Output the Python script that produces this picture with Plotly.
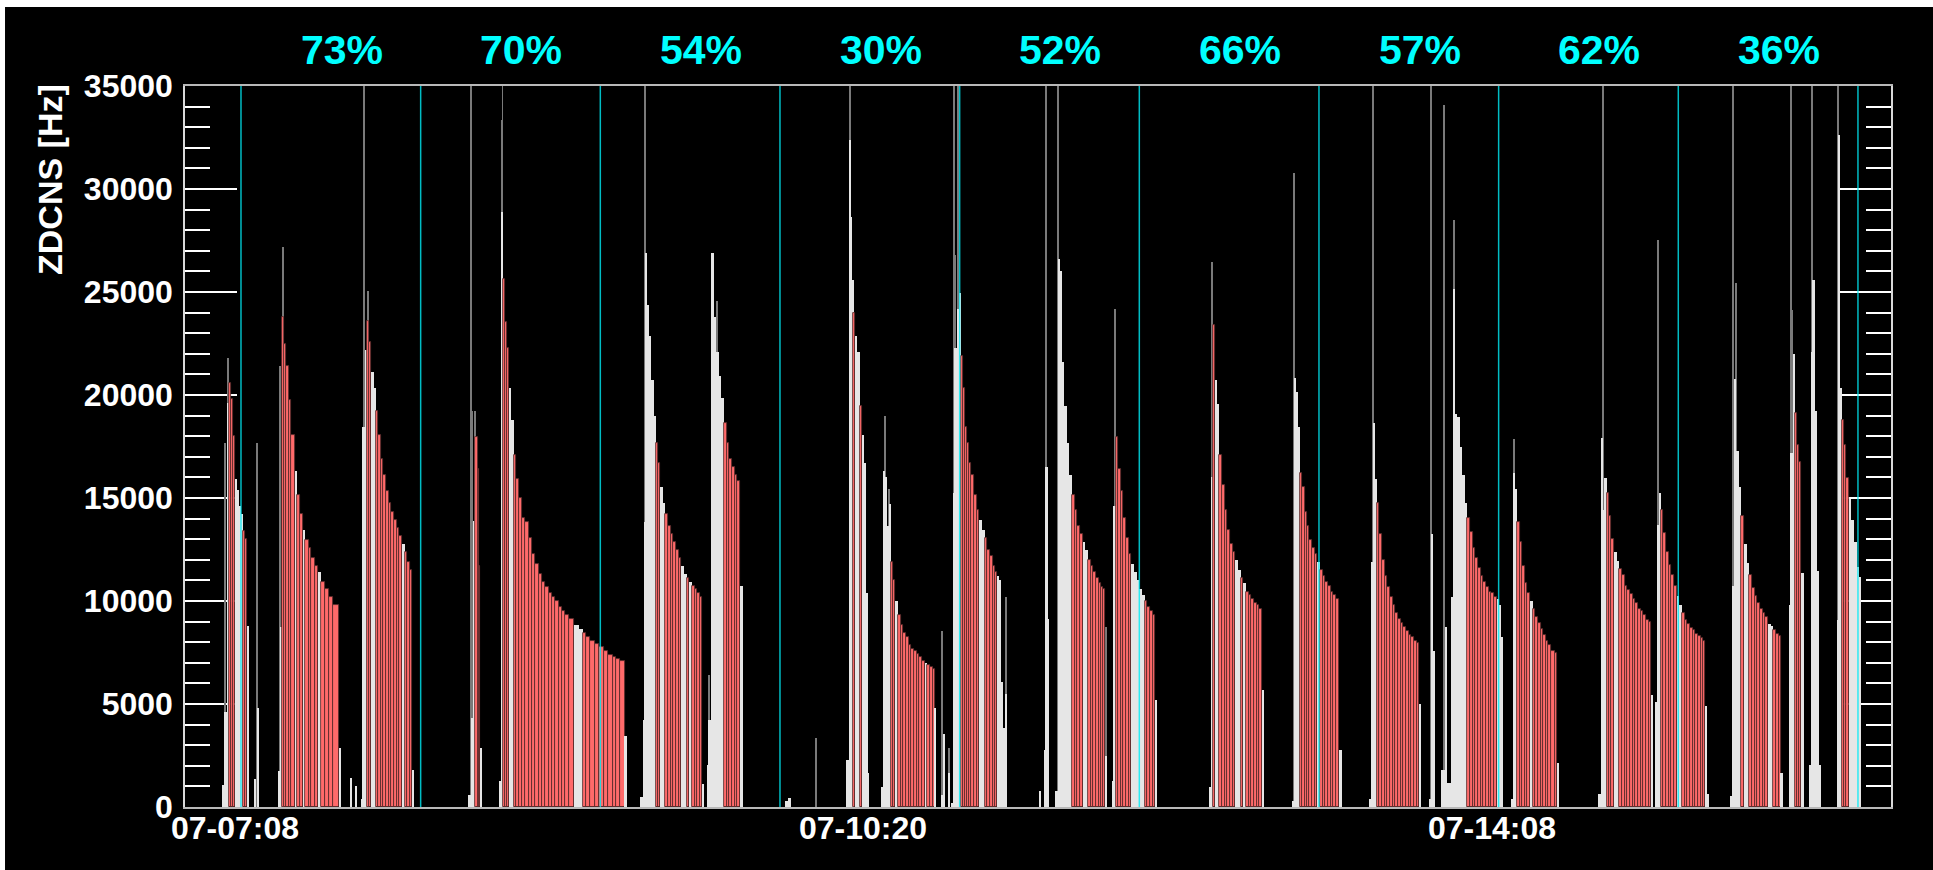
import plotly.graph_objects as go

# ZDC neutron-side count rate per 20 s sample, one block of lists per LHC fill.
# *_t    : bin edges in samples since 07:08 (1 sample = 20 s, 180 samples = 1 h)
# *_rate : rate in each bin [Hz] (0 = no data)
# *_kind : r = stable-beam bin, w = other bin
f01_t = [-19.5, -16.5, -14.5, -12.5, -10.5, -8, -6, -4, -2, 0, 2, 4.5, 6.5, 8, 13.5, 15.5, 16.5, 18]
f01_rate = [1050, 4600, 19600, 20600, 19800, 18000, 15900, 15400, 14600, 14200, 13400, 13000, 8800, 0, 1340, 0, 4800]
f01_kind = "www" + "rrr" + "wwww" + "rr" + "wwwww"

f02_t = [37.5, 39.5, 41, 43.5, 45.5, 48, 50.5, 54, 56, 59, 62.5, 64.5, 68, 70.5, 74, 77.5, 80, 84, 88, 92.5, 98, 100.5,
         109.5, 111.5, 114.5, 116.5]
f02_rate = [1730, 8740, 23800, 22460, 21400, 19780, 18050, 16320, 15170, 14200, 13440, 12960, 12580, 12100, 11710, 11420,
            10940, 10560, 10180, 9790, 2880, 0, 1400, 0, 1000]
f02_kind = "ww" + "rrrrr" + "w" + "rr" + "w" + "rrrr" + "w" + "rrrr" + "w" + "wwww"

f03_t = [120, 122, 124, 126, 128.5, 130.5, 133, 135, 137.5, 140, 142.5, 145.5, 148, 150.5, 153.5, 156, 158.5, 161.5, 164,
         166.5, 169.5, 171.5, 173]
f03_rate = [380, 18430, 22180, 23600, 22560, 21120, 20350, 19200, 18050, 16900, 16130, 15360, 14780, 14300, 13920, 13540,
            13150, 12770, 12380, 11900, 11520, 1820]
f03_kind = "www" + "rr" + "ww" + "rrrrrrrrrr" + "w" + "rrr" + "w"

f04_t = [227.5, 230, 232.5, 234.5, 237, 238.5, 239.5, 240.5]
f04_rate = [580, 4320, 13860, 17950, 16420, 11710, 2880]
f04_kind = "www" + "rrr" + "w"

f05_t = [258.5, 260.5, 262.5, 264.5, 266.5, 269, 271, 273.5, 275.5, 278.5, 281.5, 285, 288.5, 291.5, 295, 298.5, 301.5,
         305, 308.5, 311.5, 315, 318.5, 321.5, 325, 329, 333.5, 338.5, 342.5, 345.5, 350, 355, 359, 363.5, 367.5, 372.5,
         375.5, 380, 384.5, 386.5]
f05_rate = [1250, 28900, 25630, 23520, 22270, 20350, 18800, 17090, 15940, 14980, 14020, 13820, 13060, 12290, 11810, 11330,
            10940, 10660, 10370, 10180, 9980, 9700, 9500, 9310, 9120, 8830, 8640, 8450, 8260, 8060, 7910, 7780, 7580,
            7390, 7300, 7200, 7100, 3460]
f05_kind = "ww" + "rrr" + "ww" + "rrrrrrrrrrrrrrrrrr" + "ww" + "rrrrrrrrrr" + "w"

f06_t = [400, 402.5, 404.5, 405.5, 407, 409, 411, 413.5, 415.5, 417.5, 420, 422.5, 425, 427.5, 430.5, 433, 435.5, 438.5,
         441, 443.5, 446.5, 449, 451.5, 454.5, 457, 459.5, 461.5, 463.5]
f06_rate = [480, 4220, 13820, 26900, 24380, 22850, 20740, 19000, 17660, 16700, 15550, 14780, 14200, 13630, 13250, 12860,
            12480, 12100, 11710, 11330, 11140, 10940, 10750, 10560, 10370, 10180, 1100]
f06_kind = "wwwwwwww" + "rr" + "ww" + "rrrrrr" + "ww" + "r" + "w" + "rrrr" + "w"

f07_t = [466.5, 468.5, 470.5, 473.5, 475.5, 478.5, 481, 483.5, 486.5, 489, 491.5, 494.5, 497, 499.5, 502.5, 545, 548, 551]
f07_rate = [2020, 4220, 26880, 23800, 22080, 20930, 19870, 18620, 17660, 16900, 16510, 16130, 15840, 10750, 0, 300, 450]
f07_kind = "wwwwwww" + "rrrrrr" + "w" + "www"

f08_t = [606.5, 609, 611, 612.5, 613.5, 615.5, 617.5, 620, 622.5, 624.5, 626.5, 627.5, 629]
f08_rate = [2300, 32380, 28650, 25570, 24000, 22850, 22080, 19490, 18050, 16700, 10370, 1630]
f08_kind = "wwww" + "r" + "ww" + "r" + "wwww"

f09_t = [641.5, 643.5, 645.5, 647.5, 649.5, 651.5, 653.5, 655.5, 658.5, 661, 663.5, 666.5, 669, 671.5, 674.5, 677, 679.5,
         682.5, 685, 687.5, 690.5, 693, 695, 696.5, 702, 703.5, 704.5, 708.5, 710]
f09_rate = [960, 16320, 16030, 13630, 14690, 11900, 11040, 9980, 9310, 8830, 8450, 8260, 7870, 7680, 7580, 7450, 7300,
            7100, 7010, 6910, 6820, 6720, 4800, 0, 580, 3550, 0, 1630]
f09_kind = "wwwww" + "rr" + "w" + "rrrrrrrrrr" + "w" + "rrr" + "w" + "wwwww"

f10_t = [711, 713, 715, 717, 719, 721, 723, 725, 727, 729.5, 731.5, 734.5, 737, 739.5, 742.5, 745, 747.5, 750.5, 753,
         755.5, 757.5, 759.5, 761.5, 763.5, 765.5, 767.5]
f10_rate = [190, 15260, 22270, 24190, 24960, 21890, 20350, 18430, 17660, 16700, 16130, 15170, 14400, 13920, 13440, 13060,
            12480, 12190, 11710, 11420, 11230, 11040, 6050, 3840, 5470]
f10_kind = "wwwww" + "rrrrrrrr" + "ww" + "rrrrr" + "wwwww"

f11_t = [799.5, 801.5, 804.5, 806.5, 808.5, 810, 816, 818.5, 820.5, 822.5, 824.5, 827.5, 830, 832.5, 835.5, 838, 840.5,
         843.5, 846, 848.5, 851.5, 854, 856.5, 859.5, 862, 864, 866, 868]
f11_rate = [770, 0, 2780, 16510, 9120, 0, 770, 26590, 26020, 21600, 19490, 17660, 16130, 15170, 14400, 13630, 13250,
            12860, 12480, 12000, 11710, 11420, 11140, 10850, 10660, 10560, 2500]
f11_kind = "wwwwwwwwwwwww" + "rrrr" + "ww" + "rrrrrrr" + "w"

f12_t = [872.5, 874.5, 876.5, 878.5, 881.5, 884, 886.5, 889.5, 892, 894.5, 897.5, 900, 902.5, 905.5, 908, 910.5, 913.5,
         915.5, 917.5]
f12_rate = [1250, 14600, 17950, 16420, 15360, 14020, 13060, 12290, 11810, 11420, 11040, 10560, 10270, 9980, 9700, 9500,
            9310, 5180]
f12_kind = "ww" + "rrrrrr" + "wwwww" + "rrrr" + "w"

f13_t = [970, 972, 974, 976, 978, 980, 982.5, 985.5, 988, 990.5, 993.5, 996, 998.5, 1001.5, 1004, 1006.5, 1009.5, 1012,
         1014.5, 1017.5, 1020, 1022.5, 1024.5]
f13_rate = [960, 16030, 23420, 20740, 19580, 17090, 15650, 14400, 13440, 12770, 12380, 12000, 11520, 11140, 10850, 10460,
            10270, 10080, 9890, 9790, 9600, 5660]
f13_kind = "wwrww" + "rrrrrr" + "ww" + "r" + "w" + "rrrrrr" + "w"

f14_t = [1052.5, 1054.5, 1056.5, 1058.5, 1060.5, 1062.5, 1065.5, 1068, 1070.5, 1073.5, 1076, 1078.5, 1081.5, 1084,
         1086.5, 1089.5, 1092, 1094.5, 1097.5, 1100.5, 1103.5]
f14_rate = [290, 20830, 20160, 18430, 16220, 15550, 14300, 13630, 12960, 12580, 12290, 11900, 11520, 11230, 10940, 10750,
            10460, 10270, 10080, 2780]
f14_kind = "wwww" + "rrrrrrr" + "w" + "rrrrrrr" + "w"

f15_t = [1131, 1132.5, 1134.5, 1136.5, 1138.5, 1140.5, 1143.5, 1146, 1148.5, 1151.5, 1154, 1156.5, 1159.5, 1162, 1164.5,
         1167.5, 1170, 1172.5, 1175.5, 1178, 1180.5, 1182.5]
f15_rate = [380, 11900, 18620, 15940, 14780, 13250, 12000, 11230, 10660, 10180, 9790, 9410, 9120, 8930, 8740, 8540, 8350,
            8260, 8060, 7970, 4990]
f15_kind = "wwww" + "rrrrrrrrrrrrrrrr" + "w"

f16_t = [1190, 1192.5, 1194, 1196, 1202.5, 1206.5, 1208.5, 1212.5, 1214.5, 1216.5, 1218.5, 1221, 1223.5, 1226, 1228.5,
         1231.5, 1234, 1236.5, 1239.5, 1242, 1244.5, 1247.5, 1250, 1252.5, 1255.5, 1258, 1260.5, 1262.5, 1264.5]
f16_rate = [380, 13250, 7580, 0, 1820, 8740, 1150, 10180, 25150, 19100, 18910, 17470, 16130, 14780, 14020, 13340, 12580,
            12100, 11620, 11230, 10940, 10660, 10460, 10370, 10180, 10080, 9790, 8260]
f16_kind = "wwwwwwwwwwwwww" + "rrrrrrrrrrr" + "www"

f17_t = [1272.5, 1274.5, 1276.5, 1278.5, 1281, 1283.5, 1286, 1288.5, 1291.5, 1294, 1296.5, 1299.5, 1302, 1304.5, 1307.5,
         1309.5, 1312.5, 1316, 1318.5, 1320]
f17_rate = [380, 16220, 15460, 13820, 12860, 11710, 10850, 10370, 9980, 9600, 9220, 8930, 8640, 8350, 8060, 7870, 7570,
            7460, 2150]
f17_kind = "www" + "rrrrr" + "w" + "rrrrrrrrr" + "w"

f18_t = [1360.5, 1362.5, 1364.5, 1366.5, 1368.5, 1370.5, 1373, 1375.5, 1378.5, 1381, 1383.5, 1386.5, 1389, 1391.5,
         1394.5, 1397, 1399.5, 1402.5, 1405, 1407.5, 1410.5, 1412.5, 1414.5]
f18_rate = [610, 17890, 14420, 15950, 15240, 14110, 12990, 12370, 11960, 11550, 11250, 10740, 10530, 10330, 10120, 9920,
            9610, 9510, 9300, 9100, 9000, 5420]
f18_kind = "wwww" + "rrr" + "ww" + "rrrrrrrrrrrr" + "w"

f19_t = [1417, 1419, 1421, 1423, 1425, 1427.5, 1430.5, 1433, 1435.5, 1438.5, 1441, 1443.5, 1446.5, 1449, 1451.5, 1454.5,
         1457, 1459.5, 1462.5, 1465, 1467, 1469, 1470.5]
f19_rate = [5110, 13700, 15240, 14420, 13290, 12370, 11760, 11250, 10740, 10230, 9820, 9410, 9100, 8900, 8690, 8590, 8380,
            8280, 8180, 8080, 4910, 610]
f19_kind = "www" + "rrrrrr" + "ww" + "rrrrrrrrr" + "ww"

f20_t = [1492, 1494, 1496, 1498, 1500.5, 1503, 1505.5, 1508.5, 1511, 1513.5, 1516.5, 1519, 1521.5, 1524.5, 1527, 1529.5,
         1532.5, 1535, 1537.5, 1540.5, 1542.5, 1544.5]
f20_rate = [510, 10740, 20760, 17280, 15540, 14110, 12780, 11860, 11250, 10630, 10230, 9920, 9610, 9410, 9200, 8900, 8790,
            8590, 8380, 8280, 1640]
f20_kind = "wwwww" + "r" + "ww" + "rrrrrrr" + "ww" + "rrr" + "w"

f21_t = [1550.5, 1552.5, 1554.5, 1556.5, 1558.5, 1561, 1563, 1565.5]
f21_rate = [9820, 17180, 21980, 19120, 17590, 16770, 11350]
f21_kind = "www" + "rrr" + "w"

f22_t = [1570.5, 1572.5, 1574.5, 1576.5, 1578.5, 1580.5, 1582.5]
f22_rate = [2050, 22090, 25560, 19220, 11450, 2050]
f22_kind = "wwwwww"

f23_t = [1598.5, 1600.5, 1601.5, 1604.5, 1606.5, 1608.5, 1611, 1613.5, 1616.5, 1619, 1621, 1623]
f23_rate = [9100, 32620, 20350, 18810, 17590, 15950, 14930, 13910, 12880, 11660, 11150]
f23_kind = "www" + "rrr" + "wwwww"

# single-sample outliers (many run off the top of the scale)
spike_t = [-16.5, -13, 15.8, 39.5, 42, 123, 127, 230, 231, 234, 261, 262, 404.5, 469, 476.5, 576, 609.7, 645, 649.5,
           702.5, 709, 714, 715.5, 718, 766.3, 807, 818.6, 867, 875.3, 972.6, 1055, 1133.7, 1192.7, 1205, 1215.2,
           1275.3, 1364.4, 1419.3, 1495, 1497.5, 1552.5, 1554, 1573.7, 1600.2]
spike_rate = [17660, 21800, 17660, 21400, 27170, 36000, 25060, 36000, 19200, 19200, 33350, 36000, 36000, 6430, 24580,
              3360, 36000, 19000, 15460, 8540, 2880, 36000, 26780, 36000, 10180, 36000, 36000, 8740, 24190, 26460,
              30770, 36000, 36000, 34080, 28490, 17860, 36000, 27520, 36000, 25440, 36000, 24130, 36000, 36000]

# hourly markers and the stable-beam fraction of each hour
hour_marks = [0, 180, 360, 540, 720, 900, 1080, 1260, 1440, 1620]
hour_pct = ["73%", "70%", "54%", "30%", "52%", "66%", "57%", "62%", "36%"]

tick_t = [-6, 623, 1253]
tick_text = ["07-07:08", "07-10:20", "07-14:08"]
y_ticks = [0, 5000, 10000, 15000, 20000, 25000, 30000, 35000]

FONT = "Liberation Sans, Arial, Helvetica, sans-serif"
RED = "#ff6a6a"
GREY = "#e6e6e6"
EDGE = "rgb(80,42,42)"

fills = [
    (f01_t, f01_rate, f01_kind), (f02_t, f02_rate, f02_kind), (f03_t, f03_rate, f03_kind),
    (f04_t, f04_rate, f04_kind), (f05_t, f05_rate, f05_kind), (f06_t, f06_rate, f06_kind),
    (f07_t, f07_rate, f07_kind), (f08_t, f08_rate, f08_kind), (f09_t, f09_rate, f09_kind),
    (f10_t, f10_rate, f10_kind), (f11_t, f11_rate, f11_kind), (f12_t, f12_rate, f12_kind),
    (f13_t, f13_rate, f13_kind), (f14_t, f14_rate, f14_kind), (f15_t, f15_rate, f15_kind),
    (f16_t, f16_rate, f16_kind), (f17_t, f17_rate, f17_kind), (f18_t, f18_rate, f18_kind),
    (f19_t, f19_rate, f19_kind), (f20_t, f20_rate, f20_kind), (f21_t, f21_rate, f21_kind),
    (f22_t, f22_rate, f22_kind), (f23_t, f23_rate, f23_kind),
]

bx, bw, bh, bc, blw = [], [], [], [], []
for edges, rates, kinds in fills:
    n = min(len(edges) - 1, len(rates), len(kinds))
    for i in range(n):
        if rates[i] <= 0:
            continue
        bx.append(0.5 * (edges[i] + edges[i + 1]))
        bw.append(edges[i + 1] - edges[i])
        bh.append(rates[i])
        red = kinds[i] == "r"
        bc.append(RED if red else GREY)
        blw.append(0.8 if red else 0)

fig = go.Figure()

fig.add_trace(go.Bar(
    x=spike_t, y=spike_rate, width=[1.0] * len(spike_t), base=0,
    marker=dict(color="#7a7a7a", line=dict(width=0)),
    hoverinfo="skip",
))

fig.add_trace(go.Bar(
    x=bx, y=bh, width=bw, base=0,
    marker=dict(color=bc, line=dict(color=EDGE, width=blw)),
    hoverinfo="skip",
))

for h in hour_marks:
    fig.add_shape(type="line", xref="x", yref="paper", x0=h, x1=h, y0=0, y1=1,
                  line=dict(color="rgba(0,235,245,0.8)", width=1.5), layer="above")

for a, b, txt in zip(hour_marks[:-1], hour_marks[1:], hour_pct):
    fig.add_annotation(x=0.5 * (a + b), y=1, xref="x", yref="paper", xshift=11, yshift=36,
                       text=txt, showarrow=False, xanchor="center", yanchor="middle",
                       font=dict(family=FONT, size=41, color="#00ffff", weight="bold"))

# time labels under the axis
for t, txt in zip(tick_t, tick_text):
    fig.add_annotation(x=t, y=0, xref="x", yref="paper", yshift=-21, text=txt,
                       showarrow=False, xanchor="center", yanchor="middle",
                       font=dict(family=FONT, size=32, color="white", weight="bold"))

fig.add_annotation(x=-0.079, y=0.87, xref="paper", yref="paper", text="ZDCNS [Hz]",
                   textangle=-90, showarrow=False, xanchor="center", yanchor="middle",
                   font=dict(family=FONT, size=34, color="white", weight="bold"))

# black page with a thin white border on the top and left edges
fig.add_shape(type="rect", xref="paper", yref="paper",
              x0=-0.1055, x1=1.03, y0=-0.09, y1=1.1096,
              fillcolor="black", line=dict(width=0), layer="below")

fig.update_layout(
    width=1933, height=870,
    margin=dict(l=185, r=42, t=86, b=63, pad=0),
    paper_bgcolor="white", plot_bgcolor="black",
    barmode="overlay", bargap=0, showlegend=False,
    font=dict(family=FONT, color="white"),
    xaxis=dict(
        range=[-56.1, 1653.1], showticklabels=False,
        ticks="", showgrid=False, zeroline=False, showline=True, linecolor="#b8b8b8",
        linewidth=1.5, mirror=True, layer="below traces",
    ),
    yaxis=dict(
        range=[0, 35000], tickmode="array", tickvals=y_ticks,
        ticktext=[str(v) for v in y_ticks], ticks="inside", ticklen=52,
        tickwidth=1.5, tickcolor="white", mirror="allticks", showline=True,
        linecolor="#d8d8d8", linewidth=1.5, showgrid=False, zeroline=False,
        layer="below traces", ticklabelstandoff=4,
        minor=dict(dtick=1000, ticks="inside", ticklen=25, tickwidth=1.5, tickcolor="white", showgrid=False),
        tickfont=dict(family=FONT, size=32, color="white", weight="bold"),
    ),
)

fig.write_html("out.html")
